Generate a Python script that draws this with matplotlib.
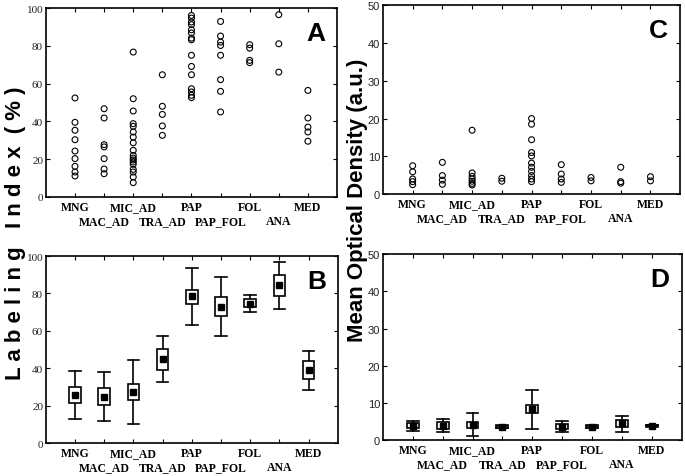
import matplotlib
matplotlib.use("Agg")
import matplotlib.pyplot as plt

groups = ["MNG", "MAC_AD", "MIC_AD", "TRA_AD", "PAP", "PAP_FOL", "FOL", "ANA", "MED"]

# panel A: labeling index, individual cases (%)
li_points = [
    [52.4, 39.5, 35.3, 30.3, 24.3, 20.3, 16.2, 13.2, 11.1],
    [46.7, 41.8, 27.7, 26.5, 20.3, 14.8, 12.3],
    [76.7, 52.0, 45.5, 38.8, 37.4, 34.4, 31.7, 28.7, 24.7, 22.0, 20.6, 19.6, 18.5,
     17.3, 14.6, 13.2, 10.6, 7.6],
    [64.7, 48.0, 43.7, 37.6, 32.6],
    [96.1, 94.7, 92.6, 91.2, 88.5, 86.8, 84.1, 83.2, 75.0, 69.1, 64.7, 57.3, 55.6, 53.8, 52.6],
    [92.9, 85.2, 82.0, 80.2, 75.0, 62.1, 55.9, 45.0],
    [80.6, 78.8, 72.3, 71.1],
    [96.5, 81.1, 66.1],
    [56.4, 41.8, 37.0, 34.4, 29.5],
]

# panel C: mean optical density, individual cases (a.u.)
od_points = [
    [7.5, 5.9, 4.0, 3.3, 2.5],
    [8.4, 4.9, 3.7, 2.6],
    [16.9, 5.6, 4.7, 4.0, 3.4, 2.8, 2.4],
    [4.2, 3.4],
    [20.0, 18.5, 14.4, 11.0, 10.1, 8.2, 7.1, 6.0, 4.9, 4.0, 3.3],
    [7.8, 5.3, 4.0, 3.1],
    [4.4, 3.5],
    [7.1, 3.3, 2.9],
    [4.6, 3.5],
]

# panel B: mean, box (low/high), whisker (low/high)
li_mean = [25.7, 24.8, 27.3, 44.8, 78.4, 73.0, 74.6, 84.3, 39.3]
li_box_lo = [21.4, 20.2, 23.2, 39.1, 74.6, 67.9, 72.7, 78.4, 34.5]
li_box_hi = [30.0, 29.5, 31.6, 50.4, 82.1, 78.2, 76.8, 89.8, 43.8]
li_wh_lo = [12.9, 11.6, 10.2, 32.7, 63.0, 57.5, 70.0, 71.6, 28.6]
li_wh_hi = [38.8, 37.9, 44.5, 57.3, 93.4, 88.8, 79.1, 97.0, 49.1]

# panel D
od_mean = [3.9, 3.9, 4.2, 3.6, 8.4, 3.6, 3.6, 4.5, 3.9]
od_box_lo = [3.3, 3.1, 3.2, 3.4, 7.4, 2.9, 3.4, 3.5, 3.7]
od_box_hi = [4.5, 4.8, 5.0, 3.8, 9.4, 4.4, 3.8, 5.5, 4.1]
od_wh_lo = [2.6, 2.2, 1.1, 3.2, 3.1, 2.2, 3.2, 2.2, 3.6]
od_wh_hi = [5.1, 5.8, 7.4, 4.0, 13.5, 5.2, 4.0, 6.6, 4.2]

serif = "Liberation Serif"
sans = "Liberation Sans"

fig = plt.figure(figsize=(6.85, 4.77), dpi=100)
axA = fig.add_axes([0.067, 0.585, 0.425, 0.396])
axC = fig.add_axes([0.559, 0.591, 0.434, 0.396])
axB = fig.add_axes([0.067, 0.069, 0.426, 0.392])
axD = fig.add_axes([0.559, 0.075, 0.436, 0.390])

xs = list(range(1, len(groups) + 1))


def style(ax, ymax, letter, yfont):
    ax.set_xlim(0, 10)
    ax.set_ylim(0, ymax)
    ax.set_xticks(xs)
    ax.set_xticklabels(groups, fontfamily=serif, fontweight="bold", fontsize=8.5)
    # alternate rows: every second label goes one line lower
    for i, tk in enumerate(ax.xaxis.get_major_ticks()):
        tk.set_pad(3 if i % 2 == 0 else 13)
    ax.set_yticks(range(0, ymax + 1, ymax // 5))
    for t in ax.get_yticklabels():
        t.set_fontfamily(yfont)
        t.set_fontsize(8)
        t.set_color("#222222")
    ax.tick_params(direction="in", top=True, right=True, length=3, width=0.8)
    ax.tick_params(axis="y", pad=2)
    for s in ax.spines.values():
        s.set_linewidth(1.2)
    ax.text(0.96, 0.93, letter, transform=ax.transAxes, ha="right", va="top",
            fontfamily=sans, fontweight="bold", fontsize=19)


def scatter_panel(ax, data):
    for x, vals in zip(xs, data):
        ax.scatter([x] * len(vals), vals, s=18, facecolors="none", edgecolors="black",
                   linewidths=0.8, zorder=3)


def box_panel(ax, mean, blo, bhi, wlo, whi):
    w = 0.4
    for x, m, b0, b1, w0, w1 in zip(xs, mean, blo, bhi, wlo, whi):
        ax.plot([x, x], [w0, b0], color="black", lw=1.2)
        ax.plot([x, x], [b1, w1], color="black", lw=1.2)
        ax.plot([x - w / 2, x + w / 2], [w0, w0], color="black", lw=1.2)
        ax.plot([x - w / 2, x + w / 2], [w1, w1], color="black", lw=1.2)
        ax.add_patch(plt.Rectangle((x - w / 2, b0), w, b1 - b0, facecolor="white",
                                   edgecolor="black", lw=1.2, zorder=3))
        ax.plot(x, m, marker="s", ms=4, color="black", zorder=4)


scatter_panel(axA, li_points)
scatter_panel(axC, od_points)
box_panel(axB, li_mean, li_box_lo, li_box_hi, li_wh_lo, li_wh_hi)
box_panel(axD, od_mean, od_box_lo, od_box_hi, od_wh_lo, od_wh_hi)

style(axA, 100, "A", serif)
style(axB, 100, "B", serif)
style(axC, 50, "C", sans)
style(axD, 50, "D", sans)

fig.text(0.022, 0.511, "L a b e l i n g   I n d e x  ( % )", rotation=90,
         ha="center", va="center", fontfamily=sans, fontweight="bold", fontsize=16)
fig.text(0.522, 0.58, "Mean Optical Density (a.u.)", rotation=90,
         ha="center", va="center", fontfamily=sans, fontweight="bold", fontsize=16)

fig.savefig("out.png", dpi=100)
